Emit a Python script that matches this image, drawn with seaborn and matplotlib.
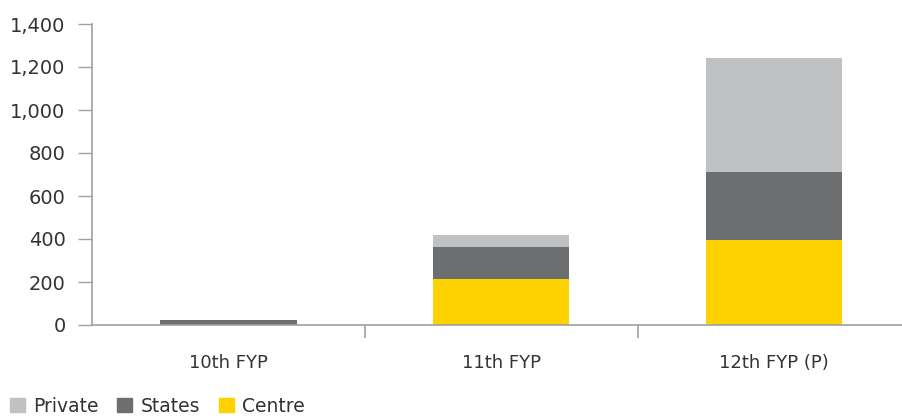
import numpy as np
import pandas as pd
import matplotlib
matplotlib.use("Agg")
import matplotlib.pyplot as plt
import seaborn as sns
from matplotlib.patches import Patch
from matplotlib.ticker import FuncFormatter

# values
plans = ["10th FYP", "11th FYP", "12th FYP (P)"]
centre = [0, 213, 395]
states = [25, 149, 318]
private = [0, 56, 530]

colors = {"Private": "#C0C1C3", "States": "#6D6E70", "Centre": "#FED201"}

sns.set_style("white")
plt.rcParams["font.family"] = ["DejaVu Sans"]

df = pd.DataFrame({"plan": plans, "Centre": centre, "States": states, "Private": private})
df["lvl_centre"] = df["Centre"]
df["lvl_states"] = df["Centre"] + df["States"]
df["lvl_private"] = df["lvl_states"] + df["Private"]

fig = plt.figure(figsize=(9.03, 4.18), dpi=100)
ax = fig.add_axes([92 / 903, 93 / 418, 1 - 92 / 903, (325 - 24) / 418])

# draw back to front so each layer shows as a stacked segment
for col, name in [("lvl_private", "Private"), ("lvl_states", "States"), ("lvl_centre", "Centre")]:
    sns.barplot(data=df, x="plan", y=col, color=colors[name], width=0.5,
                saturation=1, ax=ax, errorbar=None, linewidth=0)

ax.set_ylim(0, 1400)
ax.set_xlim(-0.5, 2.5 - 7.5 / 273)
ax.set_yticks(np.arange(0, 1401, 200))
ax.yaxis.set_major_formatter(FuncFormatter(lambda v, p: f"{int(v):,}"))
ax.set_xlabel("")
ax.set_ylabel("")

spine_col = "#A0A0A0"
for s in ["top", "right"]:
    ax.spines[s].set_visible(False)
for s in ["left", "bottom"]:
    ax.spines[s].set_color(spine_col)
    ax.spines[s].set_linewidth(1.2)

ax.tick_params(axis="y", direction="out", length=10, width=1, color=spine_col,
               labelsize=14, labelcolor="#333333", pad=9, left=True)
# x ticks sit on category boundaries, labels centred on bars
ax.set_xticks([0.5, 1.5], minor=False)
ax.set_xticklabels([])
ax.set_xticks([0, 1, 2], minor=True)
ax.set_xticklabels(plans, minor=True)
ax.tick_params(axis="x", which="major", direction="out", length=9, width=1.2,
               color=spine_col, bottom=True)
ax.tick_params(axis="x", which="minor", length=0, labelsize=13,
               labelcolor="#333333", pad=21)

handles = [Patch(color=colors[n], label=n) for n in ["Private", "States", "Centre"]]
fig.legend(handles=handles, loc="lower left", bbox_to_anchor=(-0.008, -0.035), ncol=3,
           frameon=False, fontsize=13.5, handlelength=0.8, handleheight=0.8,
           handletextpad=0.45, columnspacing=1.0, labelcolor="#333333")

fig.savefig("out.png", dpi=100)
